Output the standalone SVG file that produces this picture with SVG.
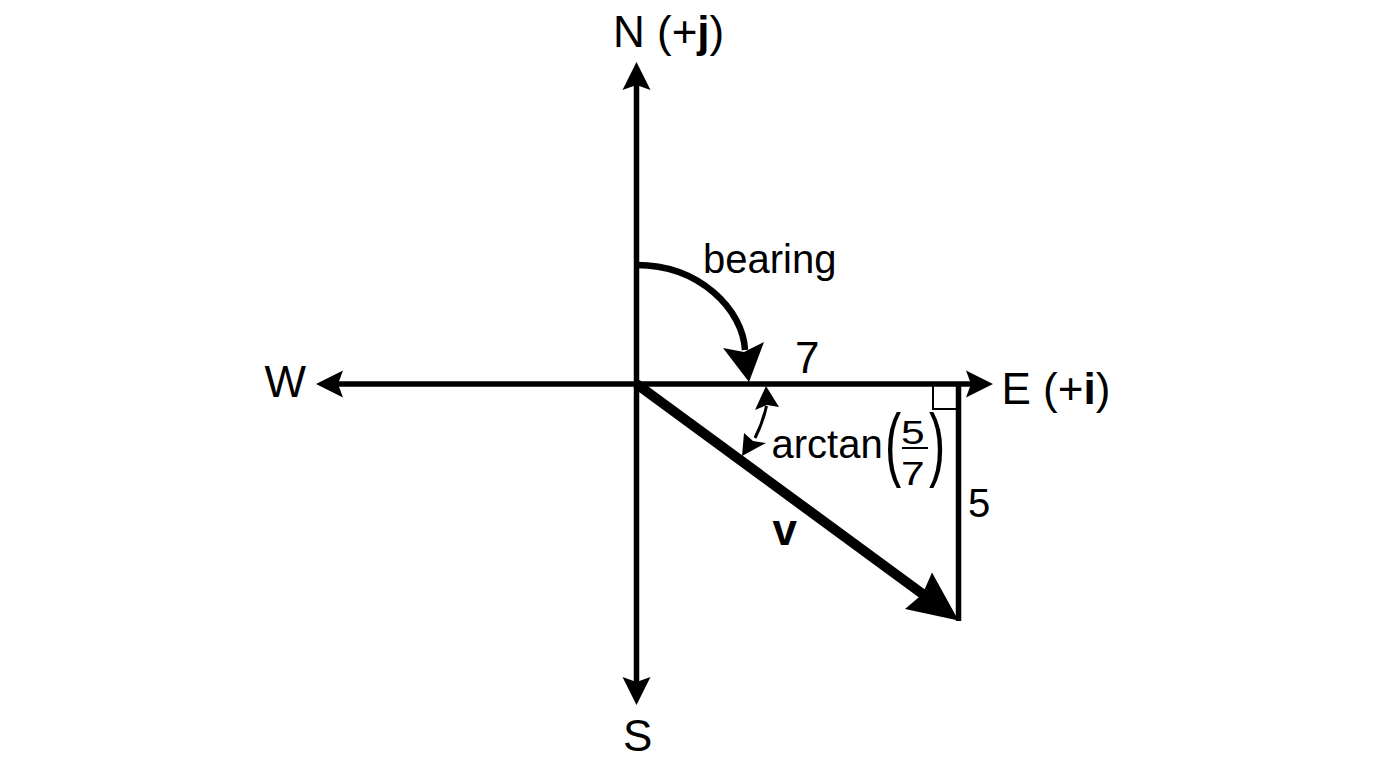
<svg xmlns="http://www.w3.org/2000/svg" width="1376" height="768" viewBox="0 0 1376 768">
<style>
text{font-family:"Liberation Sans",Arial,Helvetica,sans-serif;fill:#000}
.lbl{font-size:44px}
.med{font-size:40px}
.ax{stroke:#000;stroke-width:5.5;fill:none}
.arc{stroke:#000;stroke-width:6.5;fill:none}
.head{fill:#000;stroke:none}
.thin{stroke:#000;stroke-width:3;fill:none}
</style>
<rect width="1376" height="768" fill="#fff"/>
<g id="connectors">
<line class="ax" x1="636.5" y1="85" x2="636.5" y2="682"/>
<line class="ax" x1="338" y1="384" x2="971" y2="384"/>
<polygon class="head" points="636.5,62 622.5,90 636.5,85 650.5,90"/>
<polygon class="head" points="636.5,705 622.5,677 636.5,682 650.5,677"/>
<polygon class="head" points="316,384 343,370.5 338,384 343,397.5"/>
<polygon class="head" points="993,384 966,370.5 971,384 966,397.5"/>
<path class="arc" d="M636.5,265 C700,265 743,310 745,350"/>
<polygon class="head" points="749,382 723,348 744,352 764,342"/>
<line stroke="#000" stroke-width="5.5" x1="958.5" y1="384" x2="958.5" y2="621"/>
<line stroke="#000" stroke-width="10" x1="636.5" y1="384" x2="924" y2="595"/>
<polygon class="head" points="958.5,620.5 905,609 922.6,593.9 932,572.5"/>
<path class="thin" d="M766.5,406 A131 131 0 0 1 755,438"/>
<polygon class="head" points="766,386 755,410 767,405 779,407"/>
<polygon class="head" points="742,456 744,433 753,441 766,443"/>
<rect x="933" y="384" width="25" height="25" fill="none" stroke="#000" stroke-width="2"/>
</g>
<g id="north"><text class="lbl" x="613" y="47">N (+<tspan font-weight="bold">j</tspan>)</text></g>
<g id="east"><text class="lbl" x="1001.5" y="404">E (+<tspan font-weight="bold">i</tspan>)</text></g>
<g id="west"><text class="lbl" x="264.5" y="397">W</text></g>
<g id="south"><text class="lbl" x="623" y="751">S</text></g>
<g id="bearing"><text class="med" x="703" y="273">bearing</text></g>
<g id="side7"><text class="lbl" x="795" y="373">7</text></g>
<g id="side5"><text class="med" x="968" y="517">5</text></g>
<g id="vector"><text class="lbl" x="772.5" y="545" font-weight="bold">v</text></g>
<g id="angle">
<text class="med" x="771.5" y="458">arctan</text>
<text transform="translate(885,471) scale(0.6,1)" font-size="81">(</text>
<text transform="translate(929,471) scale(0.6,1)" font-size="81">)</text>
<text transform="translate(901,444) scale(1.25,1)" font-size="34">5</text>
<line x1="902" y1="448" x2="928" y2="448" stroke="#000" stroke-width="2"/>
<text transform="translate(901,485) scale(1.25,1)" font-size="34">7</text>
</g>
</svg>
